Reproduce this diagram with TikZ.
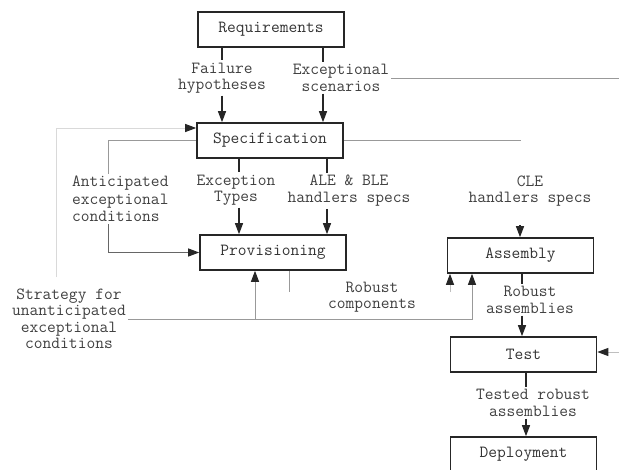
\documentclass[tikz,border=0pt]{standalone}
\usetikzlibrary{arrows.meta}

\newcommand\lblfont[1]{\ttfamily\fontsize{17}{#1}\selectfont}

\tikzset{
  stage/.style={draw=black!85, line width=1.6pt, minimum width=146pt, minimum height=35pt,
    inner sep=0pt, font=\lblfont{17}, text=black!80},
  flowlabel/.style={align=center, inner sep=2pt, font=\lblfont{16.5}, text=black!75},
  tip/.style={-{Triangle[length=11pt,width=8pt,color=black!85]}},
  link/.style={draw=black!85, line width=1.3pt},
  flow/.style={link, tip},
  faint/.style={draw=black!40, line width=1pt},
  faintflow/.style={faint, tip},
}

\begin{document}
\begin{tikzpicture}[x=1pt,y=-1pt]
  \clip (0,0) rectangle (619,469);

  % stages
  \node[stage] (req)  at (271,29.5)  {Requirements};
  \node[stage] (spec) at (270,140.5) {Specification};
  \node[stage] (prov) at (273,252.5) {Provisioning};
  \node[stage] (asm)  at (520.5,255.5) {Assembly};
  \node[stage] (test) at (523.5,354.5) {Test};
  \node[stage] (depl) at (523.5,454.5) {Deployment};

  % labels
  \node[flowlabel] (fail) at (222,78) {Failure\\hypotheses};
  \node[flowlabel] (exc)  at (341,78) {Exceptional\\scenarios};
  \node[flowlabel, align=left, anchor=west, font=\lblfont{17.5}] (antic) at (70,199)
    {Anticipated\\exceptional\\conditions};
  \node[flowlabel] (etypes) at (236,190) {Exception\\Types};
  \node[flowlabel, font=\lblfont{17}] (ale) at (349,191) {ALE \& BLE\\handlers specs};
  \node[flowlabel] (cle) at (530,191) {CLE\\handlers specs};
  \node[flowlabel] (strat) at (69,319) {Strategy for\\unanticipated\\exceptional\\conditions};
  \node[flowlabel] (robc) at (372,297) {Robust\\components};
  \node[flowlabel] (roba) at (530,300) {Robust\\assemblies};
  \node[flowlabel, font=\lblfont{17}] (tested) at (533,403) {Tested robust\\assemblies};

  % columns and free ends
  \coordinate (colfail) at (222,0);
  \coordinate (colexc)  at (323,0);
  \coordinate (coltype) at (239,0);
  \coordinate (colale)  at (327,0);
  \coordinate (colant)  at (108,0);
  \coordinate (colasm)  at (522,0);
  \coordinate (coltest) at (526,0);
  \coordinate (colprov) at (255,0);
  \coordinate (colstrat) at (472,0);
  \coordinate (rightedge) at (619,0);
  \coordinate (specend) at (521,0);
  \coordinate (lowleft) at (56,277);
  \coordinate (provout) at (289,292);
  \coordinate (asmin)   at (450,292);
  \coordinate (clein)   at (520,225);
  \coordinate (testin)  at (619,352);

  % requirements -> specification
  \draw[link] (req.south -| colfail) -- (fail.north -| colfail);
  \draw[flow] (fail.south -| colfail) -- (spec.north -| colfail);
  \draw[link] (req.south -| colexc) -- (exc.north -| colexc);
  \draw[flow] (exc.south -| colexc) -- (spec.north -| colexc);
  \draw[faint] (exc.east) -- (exc.east -| rightedge);
  \draw[faint] (spec.east) -- (spec.east -| specend);
  \draw[faintflow, draw=black!15] (lowleft) |- ([yshift=12.5pt]spec.west);

  % specification -> provisioning
  \draw[link] (spec.south -| coltype) -- (etypes.north -| coltype);
  \draw[flow] (etypes.south -| coltype) -- (prov.north -| coltype);
  \draw[link] (spec.south -| colale) -- (ale.north -| colale);
  \draw[flow] (ale.south -| colale) -- (prov.north -| colale);
  \draw[faint] (spec.west) -| (antic.north -| colant);
  \draw[faintflow, draw=black!60] (antic.south -| colant) |- (prov.west);

  % strategy, provisioning -> assembly
  \draw[faintflow] (strat.east) -| (asm.south -| colstrat);
  \draw[faintflow] (strat.east -| colprov) -- (prov.south -| colprov);
  \draw[faint] (prov.south -| provout) -- (provout);
  \draw[faintflow, draw=black!25] (asmin) -- (asm.south -| asmin);
  \draw[flow] (clein) -- (asm.north -| clein);

  % assembly -> test -> deployment
  \draw[link] (asm.south -| colasm) -- (roba.north -| colasm);
  \draw[flow] (roba.south -| colasm) -- (test.north -| colasm);
  \draw[faintflow, draw=black!25] (testin) -- (testin -| test.east);
  \draw[link] (test.south -| coltest) -- (tested.north -| coltest);
  \draw[flow] (tested.south -| coltest) -- (depl.north -| coltest);
\end{tikzpicture}
\end{document}
